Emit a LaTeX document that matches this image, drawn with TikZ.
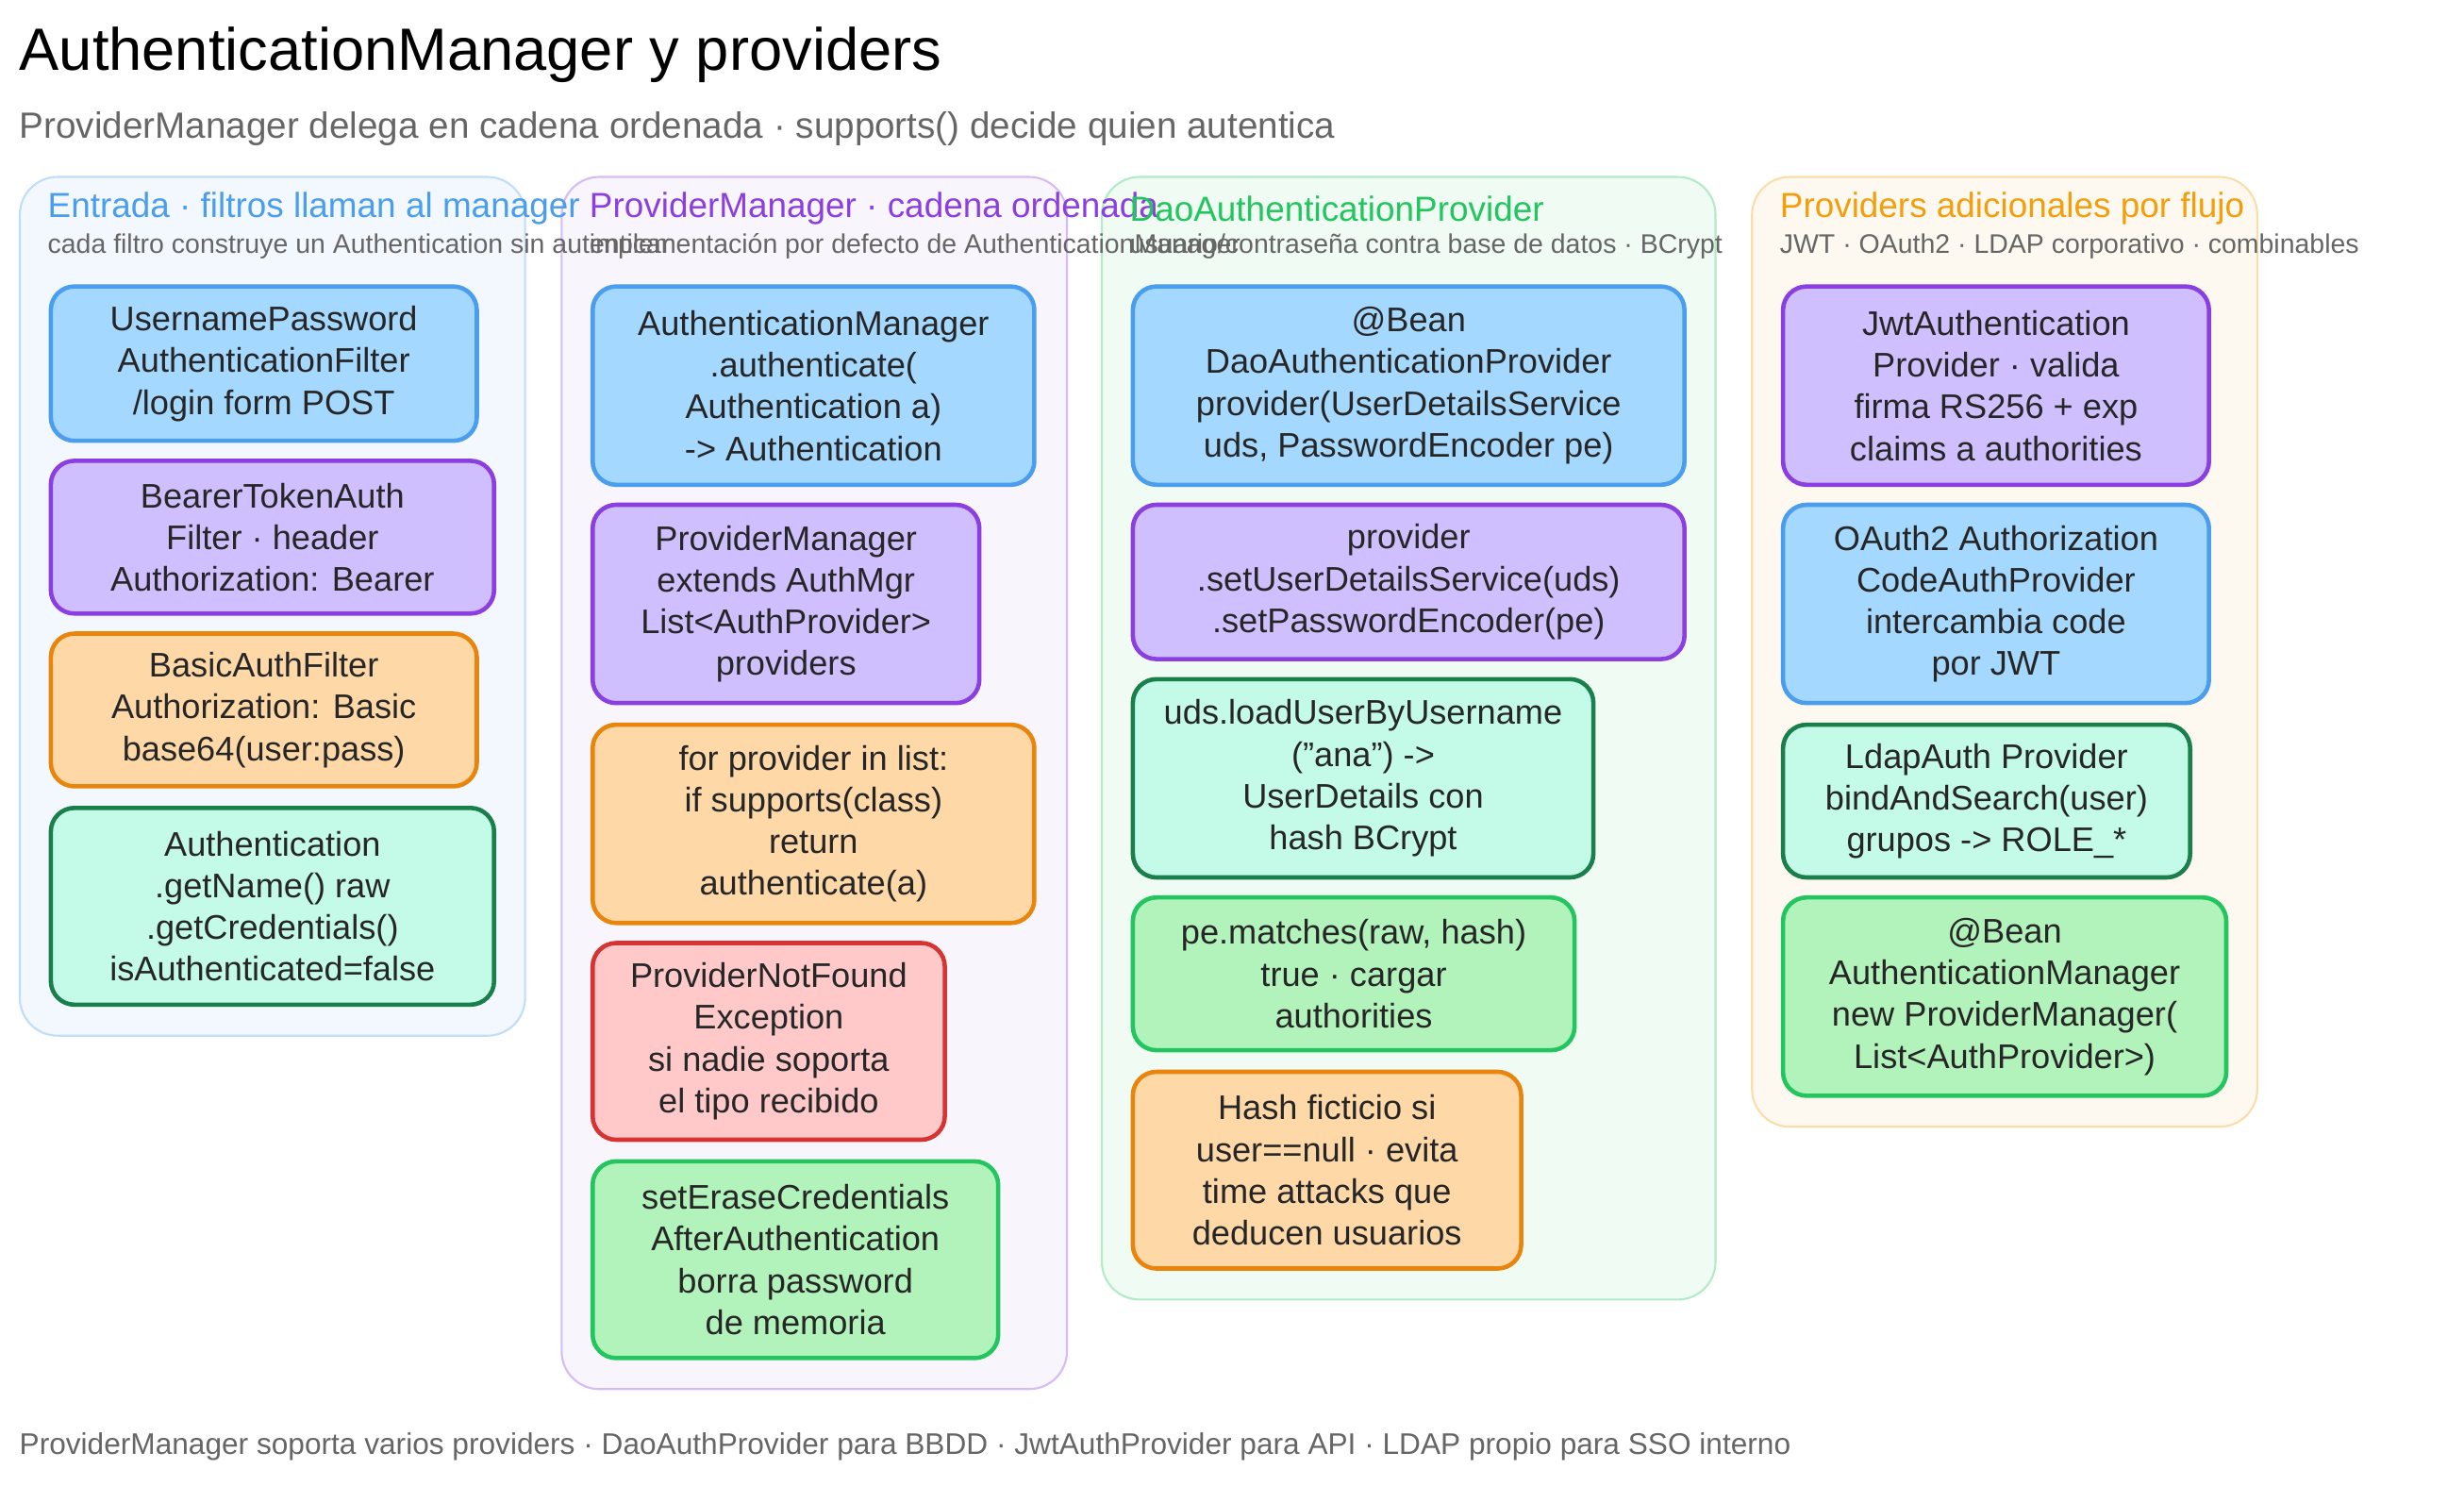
\documentclass[tikz,border=0pt]{standalone}
\usepackage{fontspec}
\setmainfont{Liberation Sans}
\usetikzlibrary{fit}
\definecolor{amblue}{HTML}{4A9EED}
\definecolor{amlblue}{HTML}{A5D8FF}
\definecolor{ampurple}{HTML}{8B3FE0}
\definecolor{amlpurple}{HTML}{D0BFFF}
\definecolor{amorange}{HTML}{E8850C}
\definecolor{amlorange}{HTML}{FFD8A8}
\definecolor{amteal}{HTML}{1A7F4B}
\definecolor{amlteal}{HTML}{C3FAE8}
\definecolor{amgreen}{HTML}{22C55E}
\definecolor{amlgreen}{HTML}{B2F2BB}
\definecolor{amred}{HTML}{D63333}
\definecolor{amlred}{HTML}{FFC9C9}
\definecolor{amyellow}{HTML}{F59E0B}
\definecolor{amgray}{HTML}{666666}
\tikzset{
  card/.style={draw, rounded corners=0.25cm, line width=1.3pt, inner sep=-0.65pt},
  bluebox/.style={card, draw=amblue, fill=amlblue},
  purplebox/.style={card, draw=ampurple, fill=amlpurple},
  orangebox/.style={card, draw=amorange, fill=amlorange},
  tealbox/.style={card, draw=amteal, fill=amlteal},
  greenbox/.style={card, draw=amgreen, fill=amlgreen},
  redbox/.style={card, draw=amred, fill=amlred},
  panel/.style={draw, rounded corners=0.4cm, line width=0.6pt, inner sep=-0.3pt},
  txt/.style={align=center, font=\fontsize{10.3}{12.6}\selectfont, text=black!85},
  ptitle/.style={anchor=west, inner sep=0pt, font=\fontsize{10.5}{13}\selectfont},
  psub/.style={anchor=west, inner sep=0pt, font=\fontsize{8.1}{10}\selectfont, text=amgray},
}
\begin{document}
\begin{tikzpicture}[x=0.01665cm, y=-0.01665cm]
\useasboundingbox[fill=white] (0,0) rectangle (1569,946);

% Header
\node[anchor=west, inner sep=0pt, font=\fontsize{18}{22}\selectfont] (title) at (12,35) {AuthenticationManager y providers};
\node[anchor=west, inner sep=0pt, font=\fontsize{11}{14}\selectfont, text=amgray] (subtitle) at (12,82) {ProviderManager delega en cadena ordenada · supports() decide quien autentica};

% Panels
\node[panel, draw=amblue!35, fill=amblue!7, fit={(12,112) (335,660)}] (pentrada) {};
\node[panel, draw=ampurple!35, fill=ampurple!5, fit={(357,112) (680,885)}] (pmanager) {};
\node[panel, draw=amgreen!35, fill=amgreen!7, fit={(701,112) (1093,828)}] (pdao) {};
\node[panel, draw=amyellow!35, fill=amyellow!6, fit={(1115,112) (1438,718)}] (pextra) {};

% Panel titles
\node[ptitle, text=amblue] (tentrada) at (30,133) {Entrada · filtros llaman al manager};
\node[psub] (sentrada) at (30,157) {cada filtro construye un Authentication sin autenticar};
\node[ptitle, text=ampurple] (tmanager) at (375,133) {ProviderManager · cadena ordenada};
\node[psub] (smanager) at (375,157) {implementación por defecto de AuthenticationManager};
\node[ptitle, text=amgreen] (tdao) at (719,133) {DaoAuthenticationProvider};
\node[psub] (sdao) at (719,157) {usuario/contraseña contra base de datos · BCrypt};
\node[ptitle, text=amyellow] (textra) at (1133,133) {Providers adicionales por flujo};
\node[psub] (sextra) at (1133,157) {JWT · OAuth2 · LDAP corporativo · combinables};

% Entrada
\node[bluebox, fit={(31,181) (305,282)}] (upfilter) {};
\node[txt] at (upfilter) {UsernamePassword\\AuthenticationFilter\\/login form POST};
\node[purplebox, fit={(31,292) (316,392)}] (bearer) {};
\node[txt] at (bearer) {BearerTokenAuth\\Filter · header\\Authorization: Bearer};
\node[orangebox, fit={(31,402) (305,502)}] (basic) {};
\node[txt] at (basic) {BasicAuthFilter\\Authorization: Basic\\base64(user:pass)};
\node[tealbox, fit={(31,513) (316,641)}] (authobj) {};
\node[txt] at (authobj) {Authentication\\.getName() raw\\.getCredentials()\\isAuthenticated=false};

% ProviderManager
\node[bluebox, fit={(376,181) (660,310)}] (authmgr) {};
\node[txt] at (authmgr) {AuthenticationManager\\.authenticate(\\Authentication a)\\-> Authentication};
\node[purplebox, fit={(376,320) (625,449)}] (provmgr) {};
\node[txt] at (provmgr) {ProviderManager\\extends AuthMgr\\List<AuthProvider>\\providers};
\node[orangebox, fit={(376,460) (660,589)}] (loop) {};
\node[txt] at (loop) {for provider in list:\\if supports(class)\\return\\authenticate(a)};
\node[redbox, fit={(376,599) (603,727)}] (notfound) {};
\node[txt] at (notfound) {ProviderNotFound\\Exception\\si nadie soporta\\el tipo recibido};
\node[greenbox, fit={(376,738) (637,866)}] (erase) {};
\node[txt] at (erase) {setEraseCredentials\\AfterAuthentication\\borra password\\de memoria};

% Dao
\node[bluebox, fit={(720,181) (1074,310)}] (daobean) {};
\node[txt] at (daobean) {@Bean\\DaoAuthenticationProvider\\provider(UserDetailsService\\uds, PasswordEncoder pe)};
\node[purplebox, fit={(720,320) (1074,421)}] (daoset) {};
\node[txt] at (daoset) {provider\\.setUserDetailsService(uds)\\.setPasswordEncoder(pe)};
\node[tealbox, fit={(720,431) (1016,560)}] (loaduser) {};
\node[txt] at (loaduser) {uds.loadUserByUsername\\("ana") ->\\UserDetails con\\hash BCrypt};
\node[greenbox, fit={(720,570) (1004,670)}] (matches) {};
\node[txt] at (matches) {pe.matches(raw, hash)\\true · cargar\\authorities};
\node[orangebox, fit={(720,681) (970,809)}] (dummy) {};
\node[txt] at (dummy) {Hash ficticio si\\user==null · evita\\time attacks que\\deducen usuarios};

% Providers adicionales
\node[purplebox, fit={(1134,181) (1408,310)}] (jwt) {};
\node[txt] at (jwt) {JwtAuthentication\\Provider · valida\\firma RS256 + exp\\claims a authorities};
\node[bluebox, fit={(1134,320) (1408,449)}] (oauth) {};
\node[txt] at (oauth) {OAuth2 Authorization\\CodeAuthProvider\\intercambia code\\por JWT};
\node[tealbox, fit={(1134,460) (1396,560)}] (ldap) {};
\node[txt] at (ldap) {LdapAuth Provider\\bindAndSearch(user)\\grupos -> ROLE\_*};
\node[greenbox, fit={(1134,570) (1419,699)}] (mgrbean) {};
\node[txt] at (mgrbean) {@Bean\\AuthenticationManager\\new ProviderManager(\\List<AuthProvider>)};

% Footer
\node[anchor=west, inner sep=0pt, font=\fontsize{9}{11}\selectfont, text=amgray] (footer) at (12,921) {ProviderManager soporta varios providers · DaoAuthProvider para BBDD · JwtAuthProvider para API · LDAP propio para SSO interno};
\end{tikzpicture}
\end{document}
